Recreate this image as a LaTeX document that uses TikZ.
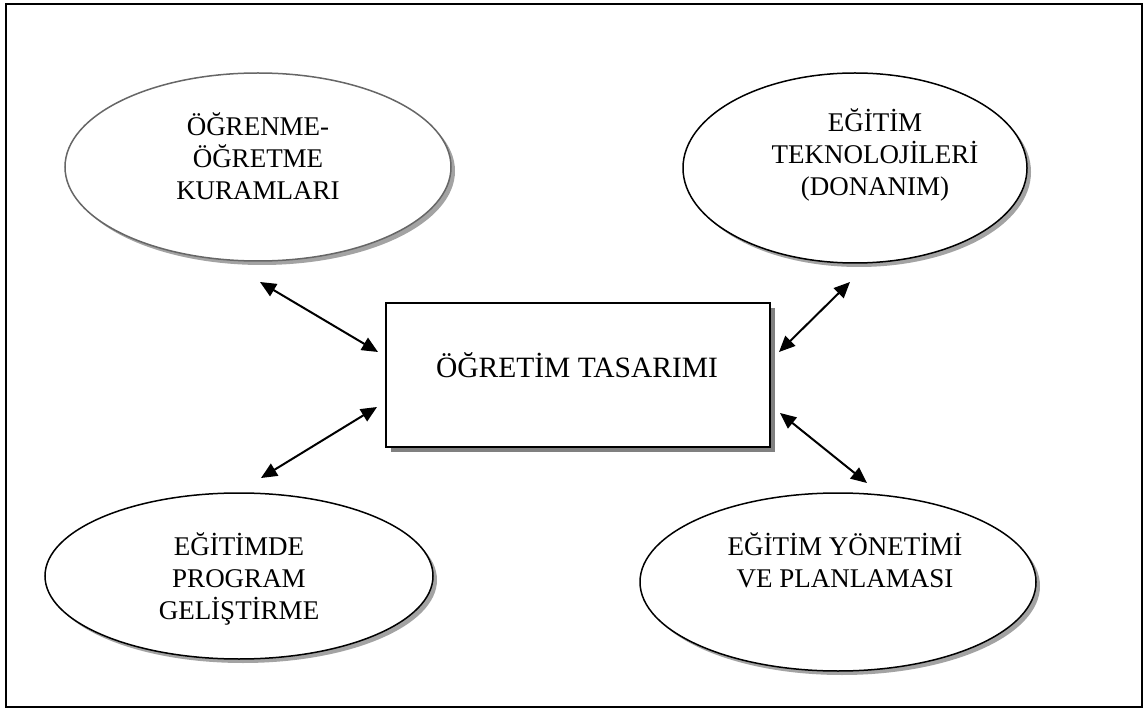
\documentclass[tikz,border=0pt]{standalone}
\usepackage{fontspec}
\setmainfont{Liberation Serif}
\usetikzlibrary{shapes.geometric,arrows.meta,shadows}
\begin{document}
\begin{tikzpicture}[x=1pt,y=-1pt,
  oval/.style={ellipse, draw=black, line width=1.5pt, fill=white, inner sep=0pt,
    drop shadow={shadow xshift=4pt, shadow yshift=-4pt, fill=black!45, opacity=0.8}},
  lbl/.style={align=center, inner sep=0pt, font=\fontsize{27}{32}\selectfont},
  mainbox/.style={rectangle, draw=black, line width=1.8pt, fill=white, inner sep=0pt,
    drop shadow={shadow xshift=5pt, shadow yshift=-5pt, fill=black!50, opacity=1}},
  twoway/.style={{Triangle[length=16pt,width=14pt]}-{Triangle[length=16pt,width=14pt]},
    line width=2pt},
]
\useasboundingbox (0,0) rectangle (1143,708);

% outer frame
\node[draw=black, line width=1.9pt, inner sep=0pt, anchor=north west,
  minimum width=1136pt, minimum height=703pt] (frame) at (5,3) {};

% central box
\node[mainbox, minimum width=384pt, minimum height=144pt] (core) at (578,375) {};
\node[lbl, font=\fontsize{29.5}{32}\selectfont] (coretxt) at (577,365) {ÖĞRETİM TASARIMI};

% the four fields
\node[oval, draw=black!60, minimum width=386pt, minimum height=188pt] (kuram) at (258,167) {};
\node[lbl] (kuramtxt) at (258,156) {ÖĞRENME-\\ÖĞRETME\\KURAMLARI};

\node[oval, minimum width=344pt, minimum height=190pt] (tekno) at (855,168) {};
\node[lbl] (teknotxt) at (875,155) {EĞİTİM\\TEKNOLOJİLERİ\\(DONANIM)};

\node[oval, minimum width=388pt, minimum height=166pt] (prog) at (239,576) {};
\node[lbl] (progtxt) at (239,579) {EĞİTİMDE\\PROGRAM\\GELİŞTİRME};

\node[oval, minimum width=396pt, minimum height=178pt] (yonet) at (838,582) {};
\node[lbl] (yonettxt) at (845,560) {EĞİTİM YÖNETİMİ\\VE PLANLAMASI};

% connector ends
\coordinate (k1) at (260,282);  \coordinate (k2) at (378,352);
\coordinate (p1) at (377,407);  \coordinate (p2) at (261,478);
\coordinate (t1) at (850,282);  \coordinate (t2) at (779,352);
\coordinate (y1) at (780,413);  \coordinate (y2) at (867,483);

\draw[twoway] (k1) -- (k2);
\draw[twoway] (p1) -- (p2);
\draw[twoway] (t1) -- (t2);
\draw[twoway] (y1) -- (y2);
\end{tikzpicture}
\end{document}
